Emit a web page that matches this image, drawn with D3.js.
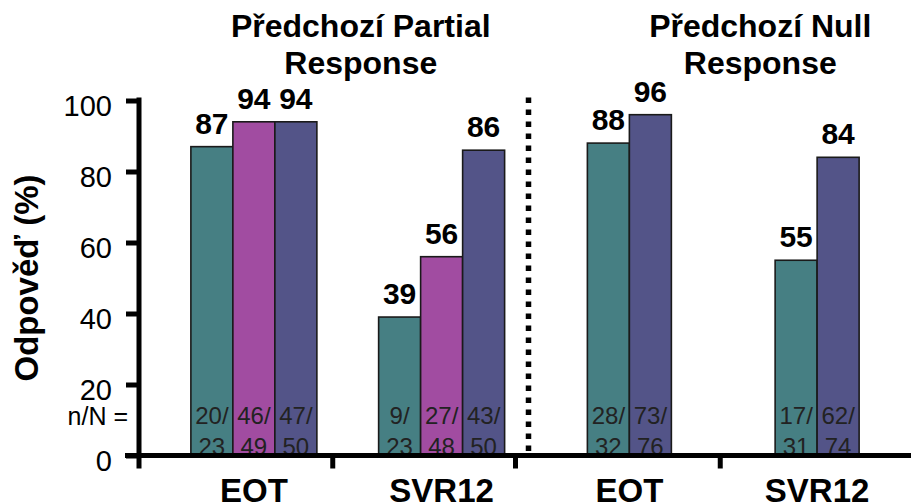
<!DOCTYPE html>
<html>
<head>
<meta charset="utf-8">
<script src="https://cdn.jsdelivr.net/npm/d3@7"></script>
<style>
  html, body { margin: 0; padding: 0; background: #fff; }
  svg { display: block; font-family: "Liberation Sans", Arial, sans-serif; }
</style>
</head>
<body>
<svg id="chart" width="911" height="504"></svg>
<script>
// Response rates by prior response group and timepoint
const groups = ["Partial-EOT", "Partial-SVR12", "Null-EOT", "Null-SVR12"];
const groupLabels = ["EOT", "SVR12", "EOT", "SVR12"];
const panelTitles = [["Předchozí Partial", "Response"], ["Předchozí Null", "Response"]];
const arms = ["teal", "magenta", "purple"];
const armColors = ["#467f83", "#a14ca1", "#535488"];

// percentages per arm (null = arm not present in that group)
const tealValues = [87, 39, 88, 55];
const magentaValues = [94, 56, null, null];
const purpleValues = [94, 86, 96, 84];

// n/N counts per arm
const tealCounts = [["20/", "23"], ["9/", "23"], ["28/", "32"], ["17/", "31"]];
const magentaCounts = [["46/", "49"], ["27/", "48"], null, null];
const purpleCounts = [["47/", "50"], ["43/", "50"], ["73/", "76"], ["62/", "74"]];

const yTicks = [0, 20, 40, 60, 80, 100];

const svg = d3.select("#chart");

const x = d3.scaleBand().domain(groups).range([160, 911]);
const y = d3.scaleLinear().domain([0, 100]).range([455.5, 100.5]);
const barW = 42;

const valuesByArm = [tealValues, magentaValues, purpleValues];
const countsByArm = [tealCounts, magentaCounts, purpleCounts];

// flatten into bar records
const bars = [];
groups.forEach((g, gi) => {
  const present = arms.filter((a, ai) => valuesByArm[ai][gi] != null);
  const inner = d3.scaleBand().domain(present).range([-present.length * barW / 2, present.length * barW / 2]);
  arms.forEach((a, ai) => {
    const v = valuesByArm[ai][gi];
    if (v == null) return;
    bars.push({
      group: g, arm: a, value: v, color: armColors[ai],
      counts: countsByArm[ai][gi],
      x0: x(g) + x.bandwidth() / 2 + inner(a), w: inner.bandwidth()
    });
  });
});

// bars
svg.append("g").selectAll("rect").data(bars).join("rect")
  .attr("x", d => d.x0)
  .attr("y", d => y(d.value))
  .attr("width", d => d.w)
  .attr("height", d => y(0) - y(d.value))
  .attr("fill", d => d.color)
  .attr("stroke", "#1a1a1a")
  .attr("stroke-width", 1.6);

// n/N counts inside the bars
const cnt = svg.append("g").attr("fill", "#222").attr("font-size", 24).attr("text-anchor", "middle");
cnt.selectAll("text.l1").data(bars).join("text").attr("class", "l1")
  .attr("x", d => d.x0 + d.w / 2).attr("y", y(0) - 32).text(d => d.counts[0]);
cnt.selectAll("text.l2").data(bars).join("text").attr("class", "l2")
  .attr("x", d => d.x0 + d.w / 2).attr("y", y(0) - 1).text(d => d.counts[1]);

// value labels above bars
svg.append("g").attr("font-size", 30).attr("font-weight", "bold").attr("text-anchor", "middle")
  .selectAll("text").data(bars).join("text")
  .attr("x", d => d.x0 + d.w / 2)
  .attr("y", d => y(d.value) - 13)
  .text(d => d.value);

// y axis
const yAxis = d3.axisLeft(y).tickValues(yTicks).tickSize(13).tickSizeOuter(0).tickPadding(14);
const gy = svg.append("g").attr("transform", "translate(139,0)").call(yAxis);
gy.select(".domain").remove();
gy.selectAll(".tick line").attr("stroke", "#000").attr("stroke-width", 5);
gy.selectAll(".tick text").attr("font-size", 29).attr("fill", "#000")
  .attr("font-family", "Liberation Sans, Arial, sans-serif").attr("dy", "0.5em");
gy.append("line").attr("x1", 0).attr("x2", 0)
  .attr("y1", y(100) - 3).attr("y2", y(0) + 13)
  .attr("stroke", "#000").attr("stroke-width", 5);

// x axis baseline with separators between groups
svg.append("line").attr("x1", 125).attr("x2", 911)
  .attr("y1", y(0)).attr("y2", y(0)).attr("stroke", "#000").attr("stroke-width", 5);
const bounds = groups.slice(1).map(g => x(g));
svg.append("g").selectAll("line").data(bounds).join("line")
  .attr("x1", (d, i) => d - [15, 20, 3][i]).attr("x2", (d, i) => d - [15, 20, 3][i])
  .attr("y1", y(0)).attr("y2", y(0) + 13)
  .attr("stroke", "#000").attr("stroke-width", 5);

// dotted divider between the two panels
svg.append("line")
  .attr("x1", x(groups[2]) - 7).attr("x2", x(groups[2]) - 7)
  .attr("y1", y(100) - 3).attr("y2", y(0) - 2)
  .attr("stroke", "#000").attr("stroke-width", 5.5)
  .attr("stroke-dasharray", "5.5,6.5");

// category labels
svg.append("g").attr("font-size", 33).attr("font-weight", "bold").attr("text-anchor", "middle")
  .selectAll("text").data(groups).join("text")
  .attr("x", d => x(d) + x.bandwidth() / 2)
  .attr("y", 502)
  .text((d, i) => groupLabels[i]);

// "n/N =" row caption
svg.append("text").attr("x", 128).attr("y", 425).attr("text-anchor", "end")
  .attr("font-size", 25).text("n/N =");

// y axis title
svg.append("text").attr("transform", "translate(38,278) rotate(-90)")
  .attr("text-anchor", "middle").attr("font-size", 33).attr("font-weight", "bold")
  .text("Odpověď (%)");

// panel titles
const panelCenters = [
  (x(groups[0]) + x(groups[1]) + x.bandwidth()) / 2 + 13,
  (x(groups[2]) + x(groups[3]) + x.bandwidth()) / 2 + 37
];
panelTitles.forEach((lines, pi) => {
  const t = svg.append("text").attr("text-anchor", "middle").attr("font-size", 32).attr("font-weight", "bold");
  lines.forEach((ln, li) => {
    t.append("tspan").attr("x", panelCenters[pi]).attr("y", 37 + li * 37).text(ln);
  });
});
</script>
</body>
</html>
